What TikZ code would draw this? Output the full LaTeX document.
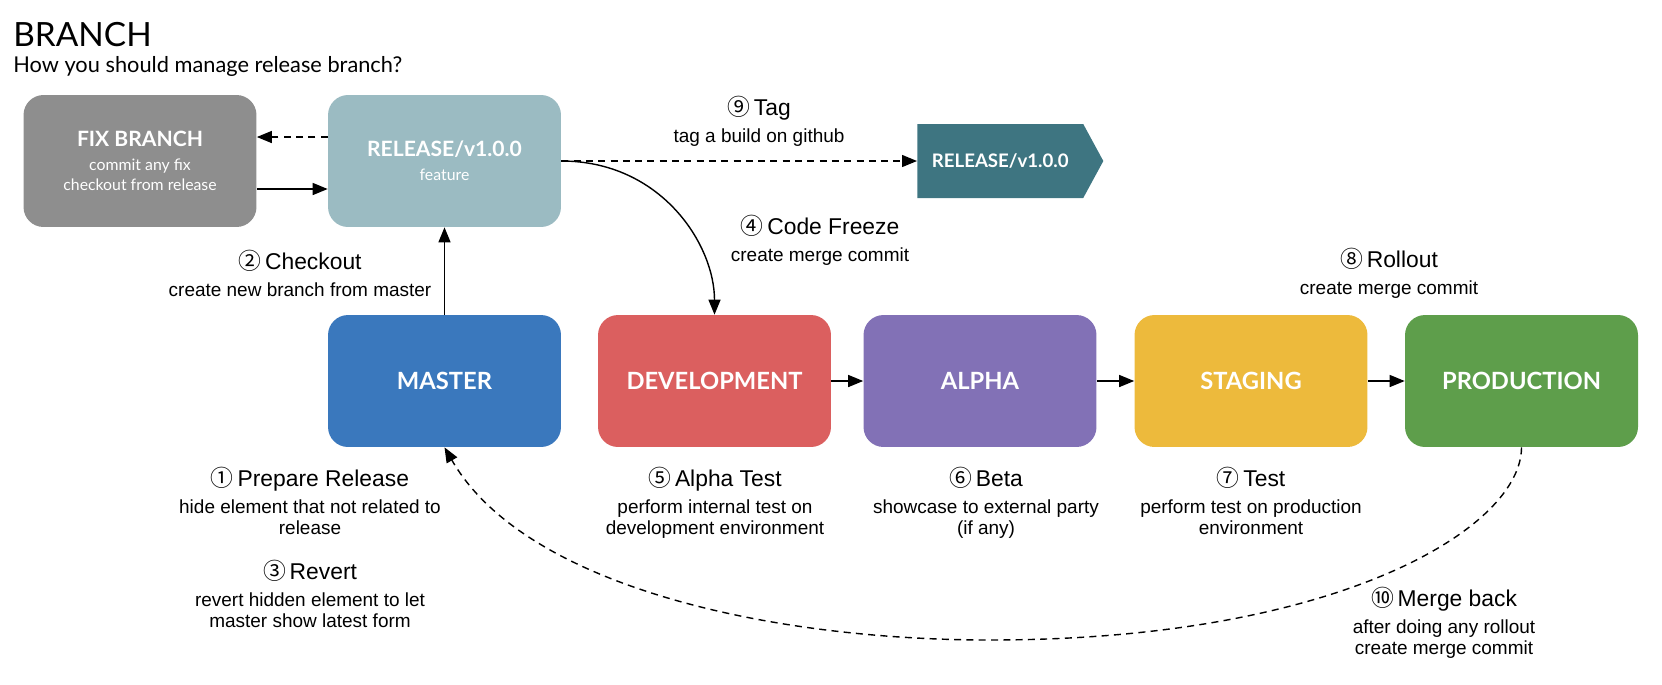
\documentclass[tikz,border=0pt]{standalone}
\usepackage{fontspec}
\setmainfont{Liberation Sans}
\newfontfamily\latofont{Lato}
\newfontfamily\circfont{Noto Sans CJK SC}
\usetikzlibrary{arrows.meta,shapes.symbols}

\definecolor{fixgray}{HTML}{8E8E8E}
\definecolor{relblue}{HTML}{9BBBC2}
\definecolor{tagteal}{HTML}{3E7581}
\definecolor{masterblue}{HTML}{3A78BD}
\definecolor{devred}{HTML}{DB5F5F}
\definecolor{alphapurple}{HTML}{8271B6}
\definecolor{stagyellow}{HTML}{EDBA3C}
\definecolor{prodgreen}{HTML}{5E9E4B}

\newcommand\head[2]{{\fontsize{13}{15}\selectfont{\circfont #1}\,#2}\\[3pt]}

\begin{document}
\begin{tikzpicture}[x=0.02cm, y=-0.02cm,
    box/.style={rectangle, rounded corners=0.4cm, minimum width=4.66cm,
      minimum height=2.64cm, inner sep=0pt, align=center, text=white},
    topbox/.style={box, font=\latofont\fontsize{9}{11.4}\selectfont},
    flowbox/.style={box, font=\latofont\bfseries\fontsize{13.5}{16}\selectfont},
    note/.style={align=center, inner sep=0pt, anchor=north,
      font=\fontsize{10.8}{12}\selectfont},
    link/.style={line width=0.8pt, -{Triangle[length=0.3cm,width=0.24cm]}},
    dashlink/.style={link, dash pattern=on 4pt off 3pt}]
  \useasboundingbox (0,0) rectangle (1662,684);

  % title
  \node[anchor=base west, inner sep=0pt, font=\latofont\fontsize{19}{22}\selectfont] (title) at (13,46) {BRANCH};
  \node[anchor=base west, inner sep=0pt, font=\latofont\fontsize{12.4}{15}\selectfont] (subtitle) at (13,72) {How you should manage release branch?};

  % release side
  \node[topbox, fill=fixgray] (fix) at (140,161) {{\bfseries\fontsize{12}{14}\selectfont FIX BRANCH}\\[2.3pt] commit any fix\\ checkout from release};
  \node[topbox, fill=relblue] (rel) at (444.5,161) {{\bfseries\fontsize{12}{14}\selectfont RELEASE/v1.0.0}\\[2.3pt] feature};
  \node[signal, signal to=east, signal pointer angle=123, fill=tagteal, minimum width=3.72cm,
    minimum height=1.48cm, inner sep=0pt, anchor=west, text=white,
    font=\latofont\bfseries\fontsize{10.6}{12}\selectfont] (tag) at (917,161) {RELEASE/v1.0.0};

  % flow
  \node[flowbox, fill=masterblue] (master) at (444.5,381) {MASTER};
  \node[flowbox, fill=devred] (dev) at (714.5,381) {DEVELOPMENT};
  \node[flowbox, fill=alphapurple] (alpha) at (980,381) {ALPHA};
  \node[flowbox, fill=stagyellow] (stag) at (1251,381) {STAGING};
  \node[flowbox, fill=prodgreen] (prod) at (1521.5,381) {PRODUCTION};

  \draw[dashlink] ([yshift=0.48cm]rel.west) -- ([yshift=0.48cm]fix.east);
  \draw[link] ([yshift=-0.56cm]fix.east) -- ([yshift=-0.56cm]rel.west);
  \draw[link] (master) -- (rel);
  \draw[dashlink] (rel.east) -- (tag.west);
  \draw[link] (rel.east) .. controls +(100,0) and +(0,-70) .. (dev.north);
  \draw[link] (dev) -- (alpha);
  \draw[link] (alpha) -- (stag);
  \draw[link] (stag) -- (prod);
  \coordinate (low) at (990,640);
  \draw[dashlink] (prod.south) .. controls +(0,80) and +(350,0) .. (low)
    .. controls +(-220,0) and +(80,139) .. (master.south);

  % notes
  \node[note] (n2) at (300,250) {\head{②}{Checkout} create new branch from master};
  \node[note] (n9) at (759,96) {\head{⑨}{Tag} tag a build on github};
  \node[note] (n4) at (820,215) {\head{④}{Code Freeze} create merge commit};
  \node[note] (n8) at (1389,248) {\head{⑧}{Rollout} create merge commit};
  \node[note] (n1) at (310,467) {\head{①}{Prepare Release} hide element that not related to\\ release};
  \node[note] (n3) at (310,560) {\head{③}{Revert} revert hidden element to let\\ master show latest form};
  \node[note] (n5) at (715,467) {\head{⑤}{Alpha Test} perform internal test on\\ development environment};
  \node[note] (n6) at (986,467) {\head{⑥}{Beta} showcase to external party\\ (if any)};
  \node[note] (n7) at (1251,467) {\head{⑦}{Test} perform test on production\\ environment};
  \node[note] (n10) at (1444,587) {\head{⑩}{Merge back} after doing any rollout\\ create merge commit};
\end{tikzpicture}
\end{document}
